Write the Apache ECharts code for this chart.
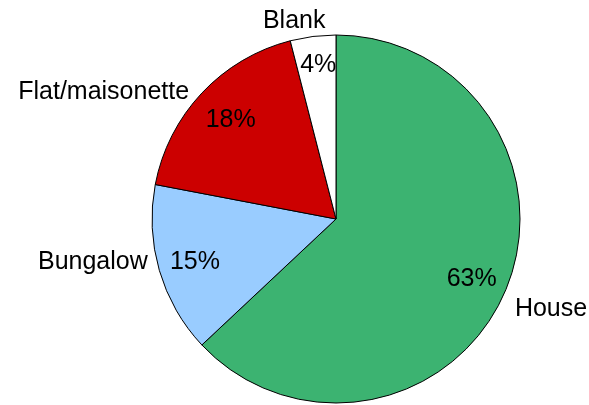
<!DOCTYPE html>
<html>
<head>
<meta charset="utf-8">
<script src="https://cdn.jsdelivr.net/npm/echarts@6/dist/echarts.min.js"></script>
<style>
html,body{margin:0;padding:0;background:#fff;}
#c{width:589px;height:405px;}
</style>
</head>
<body>
<div id="c"></div>
<script>
const categories = ['House', 'Bungalow', 'Flat/maisonette', 'Blank'];
const values = [63, 15, 18, 4];
const colors = ['#3CB371', '#99CCFF', '#CC0000', '#FFFFFF'];

const chart = echarts.init(document.getElementById('c'), null, {renderer: 'canvas'});
const font = '"Liberation Sans", Arial, sans-serif';

// small label nudges to mimic the original's label placement
const nameNudge = {'House': [-6, 12], 'Bungalow': [5, -12], 'Flat/maisonette': [1, 7], 'Blank': [19, -3]};
const pctNudge = {'House': [-2, 1], 'Bungalow': [3, 1], 'Flat/maisonette': [4, 4], 'Blank': [1, -5]};

const mainData = categories.map((n, i) => ({
  name: n, value: values[i], itemStyle: {color: colors[i]},
  label: {offset: nameNudge[n]}
}));
const labelData = categories.map((n, i) => ({
  name: n, value: values[i], label: {offset: pctNudge[n]}
}));

chart.setOption({
  animation: false,
  series: [
    {
      type: 'pie',
      center: [336, 219],
      radius: [0, 184],
      startAngle: 90,
      clockwise: true,
      avoidLabelOverlap: false,
      itemStyle: {borderColor: '#000', borderWidth: 1},
      label: {
        show: true, position: 'outside', formatter: '{b}',
        fontFamily: font, fontSize: 25, color: '#000'
      },
      labelLine: {show: false, length: 12, length2: 0},
      emphasis: {disabled: true},
      data: mainData
    },
    {
      type: 'pie',
      center: [336, 219],
      radius: [110, 184],
      startAngle: 90,
      clockwise: true,
      silent: true,
      itemStyle: {color: 'rgba(0,0,0,0)', borderWidth: 0},
      label: {
        show: true, position: 'inside', formatter: '{c}%',
        fontFamily: font, fontSize: 25, color: '#000'
      },
      labelLine: {show: false},
      emphasis: {disabled: true},
      data: labelData
    }
  ]
});
</script>
</body>
</html>
